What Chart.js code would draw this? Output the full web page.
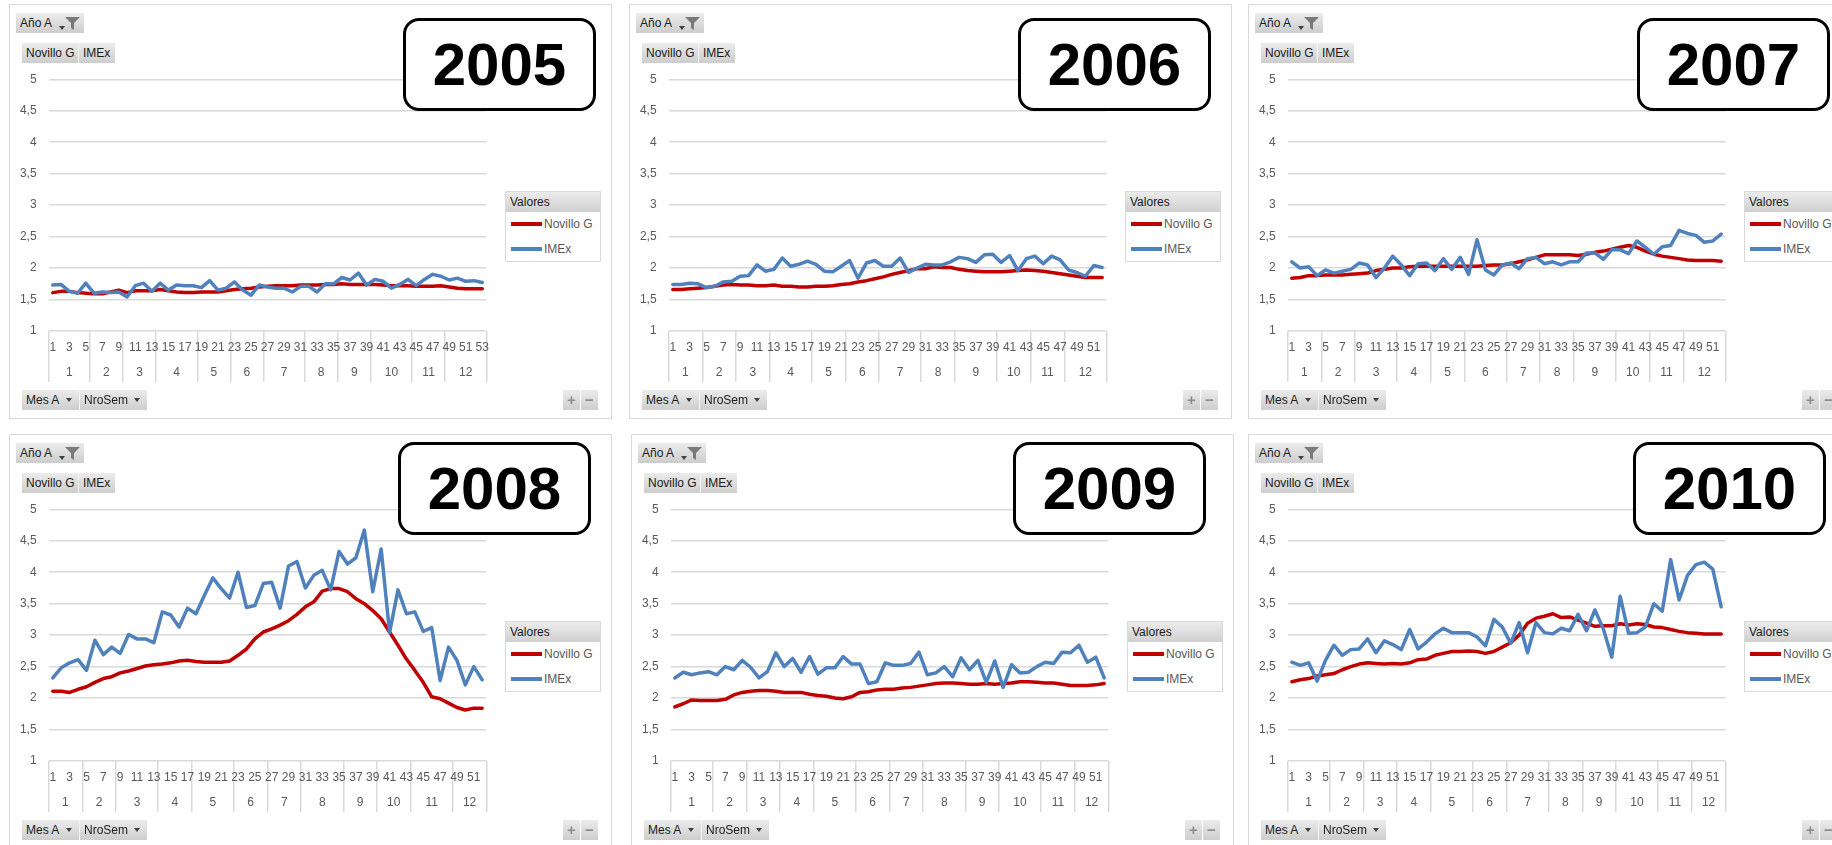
<!DOCTYPE html>
<html>
<head>
<meta charset="utf-8">
<script src="https://cdn.jsdelivr.net/npm/chart.js@4.4.1/dist/chart.umd.min.js"></script>
<style>
  body { margin: 0; width: 1832px; height: 845px; overflow: hidden; background: #fff; font-family: 'Liberation Sans', Arial, sans-serif; position: relative; }
  .panel { position: absolute; width: 601px; height: 413px; outline: 1px solid #d9d9d9; background: #fff; }
  .panel canvas { position: absolute; left: 0; top: 0; }
  .btn { position: absolute; height: 20px; line-height: 20px; font-size: 12px; color: #1a1a1a; background: linear-gradient(#ebebeb, #cdcdcd); box-sizing: border-box; padding-left: 4px; white-space: nowrap; }
  .tri { position: absolute; width: 0; height: 0; border-left: 3px solid transparent; border-right: 3px solid transparent; border-top: 4px solid #404040; }
  .pm { position: absolute; top: 385px; width: 17px; height: 20px; line-height: 19px; text-align: center; font-size: 15px; font-weight: bold; color: #8c8c8c; background: linear-gradient(#ebebeb, #cdcdcd); }
  .yearbox { position: absolute; width: 193px; height: 93px; border: 3px solid #000; border-radius: 16px; background: #fff; box-sizing: border-box; font-weight: bold; font-size: 60px; text-align: center; line-height: 87px; color: #000; }
  .legend { position: absolute; left: 495px; top: 186px; width: 96px; height: 71px; border: 1px solid #d9d9d9; box-sizing: border-box; background: #fff; }
  .lhead { height: 20px; line-height: 20px; font-size: 12px; padding-left: 4px; background: linear-gradient(#ececec, #cfcfcf); color: #1a1a1a; }
  .lrow { position: absolute; left: 5px; height: 14px; line-height: 14px; font-size: 12px; color: #595959; white-space: nowrap; }
  .sw { display: inline-block; width: 31px; height: 4px; vertical-align: middle; margin-right: 2px; position: relative; top: -1px; }
</style>
</head>
<body>
<script>
// month labels on the second axis row
var MONTHS = ['1', '2', '3', '4', '5', '6', '7', '8', '9', '10', '11', '12'];

// weeks per month (NroSem grouped by Mes A)
var MONTH_WEEKS_2005 = [5, 4, 4, 5, 4, 4, 5, 4, 4, 5, 4, 5];
var MONTH_WEEKS_2006 = [4, 4, 4, 5, 4, 4, 5, 4, 5, 4, 4, 5];
var MONTH_WEEKS_2007 = [4, 4, 5, 4, 4, 5, 4, 4, 5, 4, 4, 5];
var MONTH_WEEKS_2008 = [4, 4, 5, 4, 5, 4, 4, 5, 4, 4, 5, 4];
var MONTH_WEEKS_2009 = [5, 4, 4, 4, 5, 4, 4, 5, 4, 5, 4, 4];
var MONTH_WEEKS_2010 = [5, 4, 4, 4, 5, 4, 5, 4, 4, 5, 4, 4];

var NOV_2005 = [1.61, 1.63, 1.63, 1.61, 1.60, 1.59, 1.59, 1.62, 1.65, 1.61,
    1.64, 1.64, 1.64, 1.66, 1.64, 1.62, 1.61, 1.61, 1.62, 1.62,
    1.62, 1.64, 1.66, 1.67, 1.68, 1.70, 1.71, 1.72, 1.72, 1.72,
    1.73, 1.73, 1.73, 1.74, 1.74, 1.75, 1.74, 1.74, 1.74, 1.74,
    1.73, 1.72, 1.72, 1.72, 1.71, 1.71, 1.71, 1.72, 1.70, 1.68,
    1.67, 1.67, 1.67];
var IMEX_2005 = [1.73, 1.74, 1.63, 1.60, 1.76, 1.60, 1.62, 1.61, 1.62, 1.54,
    1.72, 1.76, 1.63, 1.76, 1.65, 1.73, 1.72, 1.72, 1.69, 1.80,
    1.65, 1.68, 1.78, 1.65, 1.57, 1.73, 1.70, 1.68, 1.68, 1.62,
    1.71, 1.71, 1.62, 1.75, 1.75, 1.85, 1.81, 1.92, 1.73, 1.82,
    1.79, 1.68, 1.74, 1.82, 1.72, 1.82, 1.90, 1.87, 1.81, 1.84,
    1.79, 1.80, 1.77];

var NOV_2006 = [1.66, 1.66, 1.67, 1.68, 1.69, 1.71, 1.73, 1.74, 1.73, 1.73,
    1.72, 1.72, 1.73, 1.71, 1.71, 1.70, 1.70, 1.71, 1.71, 1.72,
    1.74, 1.75, 1.78, 1.80, 1.83, 1.86, 1.90, 1.93, 1.96, 1.99,
    1.99, 2.02, 2.01, 2.01, 1.98, 1.96, 1.95, 1.94, 1.94, 1.94,
    1.95, 1.96, 1.97, 1.96, 1.95, 1.93, 1.91, 1.89, 1.87, 1.85,
    1.85, 1.85];
var IMEX_2006 = [1.74, 1.74, 1.76, 1.75, 1.69, 1.71, 1.78, 1.79, 1.87, 1.88,
    2.05, 1.95, 1.98, 2.16, 2.03, 2.06, 2.11, 2.06, 1.95, 1.94,
    2.03, 2.12, 1.84, 2.08, 2.12, 2.03, 2.03, 2.16, 1.93, 2.00,
    2.06, 2.05, 2.05, 2.10, 2.17, 2.15, 2.09, 2.21, 2.22, 2.09,
    2.20, 1.96, 2.15, 2.19, 2.07, 2.19, 2.13, 1.97, 1.93, 1.87,
    2.04, 2.01];

var NOV_2007 = [1.84, 1.85, 1.88, 1.88, 1.89, 1.89, 1.89, 1.90, 1.91, 1.92,
    1.96, 1.98, 2.00, 2.00, 2.02, 2.03, 2.03, 2.03, 2.03, 2.03,
    2.03, 2.03, 2.03, 2.04, 2.05, 2.05, 2.07, 2.10, 2.13, 2.17,
    2.21, 2.21, 2.21, 2.21, 2.20, 2.22, 2.25, 2.27, 2.30, 2.33,
    2.36, 2.33, 2.27, 2.22, 2.19, 2.17, 2.15, 2.13, 2.12, 2.12,
    2.12, 2.11];
var IMEX_2007 = [2.10, 2.00, 2.02, 1.88, 1.97, 1.92, 1.95, 1.98, 2.08, 2.05,
    1.85, 2.00, 2.19, 2.05, 1.88, 2.07, 2.08, 1.96, 2.15, 1.98,
    2.17, 1.90, 2.45, 1.97, 1.89, 2.05, 2.08, 1.99, 2.15, 2.17,
    2.07, 2.10, 2.05, 2.10, 2.10, 2.24, 2.24, 2.14, 2.29, 2.29,
    2.23, 2.43, 2.33, 2.22, 2.34, 2.36, 2.60, 2.55, 2.52, 2.41,
    2.43, 2.54];

var NOV_2008 = [2.11, 2.11, 2.09, 2.14, 2.18, 2.25, 2.31, 2.34, 2.40, 2.43,
    2.47, 2.51, 2.53, 2.54, 2.56, 2.59, 2.60, 2.58, 2.57, 2.57,
    2.57, 2.59, 2.68, 2.78, 2.94, 3.05, 3.10, 3.16, 3.23, 3.33,
    3.45, 3.53, 3.70, 3.74, 3.74, 3.69, 3.58, 3.50, 3.39, 3.26,
    3.05, 2.84, 2.62, 2.44, 2.25, 2.02, 1.99, 1.92, 1.85, 1.81,
    1.84, 1.84];
var IMEX_2008 = [2.32, 2.48, 2.56, 2.61, 2.44, 2.92, 2.69, 2.81, 2.71, 3.01,
    2.94, 2.94, 2.88, 3.37, 3.32, 3.13, 3.43, 3.34, 3.63, 3.91,
    3.74, 3.59, 4.00, 3.44, 3.47, 3.82, 3.84, 3.43, 4.10, 4.17,
    3.75, 3.95, 4.03, 3.72, 4.33, 4.13, 4.23, 4.67, 3.69, 4.37,
    3.04, 3.72, 3.34, 3.37, 3.06, 3.12, 2.28, 2.81, 2.60, 2.21,
    2.50, 2.29];

var NOV_2009 = [1.86, 1.91, 1.97, 1.96, 1.96, 1.96, 1.98, 2.05, 2.09, 2.11,
    2.12, 2.12, 2.11, 2.09, 2.09, 2.09, 2.06, 2.04, 2.03, 2.00,
    1.99, 2.02, 2.09, 2.10, 2.13, 2.14, 2.14, 2.16, 2.17, 2.19,
    2.21, 2.23, 2.24, 2.24, 2.23, 2.22, 2.22, 2.23, 2.22, 2.23,
    2.24, 2.26, 2.26, 2.25, 2.24, 2.24, 2.22, 2.20, 2.20, 2.20,
    2.21, 2.23];
var IMEX_2009 = [2.32, 2.41, 2.37, 2.40, 2.42, 2.37, 2.50, 2.45, 2.60, 2.49,
    2.32, 2.42, 2.72, 2.50, 2.63, 2.41, 2.66, 2.38, 2.48, 2.48,
    2.66, 2.54, 2.54, 2.23, 2.26, 2.56, 2.52, 2.52, 2.55, 2.73,
    2.37, 2.40, 2.50, 2.34, 2.64, 2.45, 2.60, 2.25, 2.59, 2.17,
    2.53, 2.40, 2.41, 2.50, 2.57, 2.55, 2.73, 2.72, 2.84, 2.57,
    2.65, 2.32];

var NOV_2010 = [2.26, 2.29, 2.31, 2.35, 2.37, 2.39, 2.45, 2.50, 2.54, 2.56,
    2.55, 2.54, 2.55, 2.54, 2.56, 2.61, 2.62, 2.68, 2.71, 2.74,
    2.74, 2.75, 2.74, 2.71, 2.74, 2.81, 2.88, 3.00, 3.19, 3.27,
    3.30, 3.34, 3.28, 3.29, 3.24, 3.19, 3.14, 3.15, 3.15, 3.18,
    3.16, 3.18, 3.17, 3.13, 3.12, 3.09, 3.06, 3.04, 3.03, 3.02,
    3.02, 3.02];
var IMEX_2010 = [2.57, 2.52, 2.56, 2.27, 2.60, 2.84, 2.68, 2.77, 2.78, 2.94,
    2.72, 2.91, 2.85, 2.77, 3.09, 2.78, 2.89, 3.02, 3.11, 3.04,
    3.04, 3.04, 2.97, 2.83, 3.25, 3.13, 2.87, 3.20, 2.72, 3.20,
    3.04, 3.02, 3.11, 3.07, 3.33, 3.07, 3.40, 3.10, 2.65, 3.62,
    3.03, 3.04, 3.13, 3.50, 3.38, 4.20, 3.56, 3.95, 4.12, 4.16,
    4.05, 3.45];

var panels = [
    { year: '2005', left: 10, top: 5, boxLeft: 393, boxTop: 13, nov: NOV_2005, imex: IMEX_2005, months: MONTH_WEEKS_2005 },
    { year: '2006', left: 630, top: 5, boxLeft: 388, boxTop: 13, nov: NOV_2006, imex: IMEX_2006, months: MONTH_WEEKS_2006 },
    { year: '2007', left: 1249, top: 5, boxLeft: 388, boxTop: 13, nov: NOV_2007, imex: IMEX_2007, months: MONTH_WEEKS_2007 },
    { year: '2008', left: 10, top: 435, boxLeft: 388, boxTop: 7, nov: NOV_2008, imex: IMEX_2008, months: MONTH_WEEKS_2008 },
    { year: '2009', left: 632, top: 435, boxLeft: 381, boxTop: 7, nov: NOV_2009, imex: IMEX_2009, months: MONTH_WEEKS_2009 },
    { year: '2010', left: 1249, top: 435, boxLeft: 384, boxTop: 7, nov: NOV_2010, imex: IMEX_2010, months: MONTH_WEEKS_2010 }
];

Chart.defaults.font.family = "'Liberation Sans', Arial, sans-serif";
Chart.defaults.font.size = 12;
Chart.defaults.color = '#595959';

var GRID = '#d9d9d9';
var NONE = 'rgba(0,0,0,0)';

var funnel = '<svg width="15" height="13" style="position:absolute;left:49px;top:4px" viewBox="0 0 15 13">' +
    '<path d="M0 0 H15 L9 6 V13 L6 11 V6 Z" fill="#7a7a7a"/></svg>';

function makeChart(canvas, p) {
    var weeks = p.nov.map(function (v, i) { return String(i + 1); });
    var n = weeks.length;

    // month boundaries, counted in weeks
    var bounds = [0];
    p.months.forEach(function (w) { bounds.push(bounds[bounds.length - 1] + w); });

    var monthTicks = [];
    p.months.forEach(function (w, m) {
        monthTicks.push({ value: bounds[m], edge: true });
        monthTicks.push({ value: bounds[m] + w / 2, name: MONTHS[m] });
    });
    monthTicks.push({ value: n, edge: true });

    return new Chart(canvas.getContext('2d'), {
        type: 'line',
        data: {
            labels: weeks,
            datasets: [{
                label: 'Novillo G',
                data: p.nov,
                borderColor: '#c00000',
                borderWidth: 3.5,
                pointRadius: 0,
                order: 1
            }, {
                label: 'IMEx',
                data: p.imex,
                borderColor: '#4f81bd',
                borderWidth: 3.5,
                pointRadius: 0,
                order: 0
            }]
        },
        options: {
            responsive: false,
            animation: false,
            devicePixelRatio: 1,
            layout: { padding: { top: 74.3, right: 124.6, bottom: 36, left: 0 } },
            elements: { line: { tension: 0, borderJoinStyle: 'round', borderCapStyle: 'round' } },
            plugins: { legend: { display: false }, tooltip: { enabled: false } },
            scales: {
                y: {
                    min: 1,
                    max: 5,
                    ticks: {
                        stepSize: 0.5,
                        padding: 12,
                        callback: function (v) { return String(v).replace('.', ','); }
                    },
                    grid: { color: GRID, lineWidth: 1.5, drawTicks: false },
                    border: { display: false },
                    afterFit: function (s) { s.width = 38.6; }
                },
                x: {
                    type: 'category',
                    offset: true,
                    weight: 0,
                    grid: {
                        offset: true,
                        drawOnChartArea: false,
                        tickLength: 26,
                        lineWidth: 1.5,
                        color: function (c) {
                            return (c.index === undefined || bounds.indexOf(c.index) >= 0) ? GRID : NONE;
                        }
                    },
                    border: { display: false },
                    ticks: {
                        autoSkip: false,
                        maxRotation: 0,
                        minRotation: 0,
                        padding: -16.2,
                        callback: function (v, i) { return i % 2 === 0 ? weeks[i] : ''; }
                    },
                    afterFit: function (s) { s.height = 26; }
                },
                m: {
                    type: 'linear',
                    position: 'bottom',
                    weight: 1,
                    min: 0,
                    max: n,
                    bounds: 'data',
                    grid: {
                        drawOnChartArea: false,
                        tickLength: 25,
                        lineWidth: 1.5,
                        color: function (c) { return (c.tick && c.tick.edge) ? GRID : NONE; }
                    },
                    border: { display: false },
                    ticks: {
                        autoSkip: false,
                        maxRotation: 0,
                        minRotation: 0,
                        padding: -16.2,
                        callback: function (v, i, t) { return t[i].name || ''; }
                    },
                    afterBuildTicks: function (s) {
                        s.ticks = monthTicks.map(function (t) { return { value: t.value, edge: t.edge, name: t.name }; });
                    },
                    afterFit: function (s) { s.height = 25; }
                }
            }
        }
    });
}

panels.forEach(function (p) {
    var el = document.createElement('div');
    el.className = 'panel';
    el.style.left = p.left + 'px';
    el.style.top = p.top + 'px';
    el.innerHTML =
        '<canvas width="601" height="413"></canvas>' +
        '<div class="btn" style="left:6px;top:8px;width:68px;padding-left:4px">Año A' +
            '<span class="tri" style="left:43px;top:13px"></span>' + funnel + '</div>' +
        '<div class="btn" style="left:12px;top:38px;width:56px">Novillo G</div>' +
        '<div class="btn" style="left:68px;top:38px;width:37px;border-left:1px solid #f4f4f4">IMEx</div>' +
        '<div class="yearbox" style="left:' + p.boxLeft + 'px;top:' + p.boxTop + 'px">' + p.year + '</div>' +
        '<div class="legend"><div class="lhead">Valores</div>' +
            '<div class="lrow" style="top:25px"><span class="sw" style="background:#c00000"></span>Novillo G</div>' +
            '<div class="lrow" style="top:50px"><span class="sw" style="background:#4f81bd"></span>IMEx</div></div>' +
        '<div class="btn" style="left:12px;top:385px;width:57px">Mes A<span class="tri" style="left:44px;top:8px"></span></div>' +
        '<div class="btn" style="left:69px;top:385px;width:68px;border-left:1px solid #f4f4f4">NroSem<span class="tri" style="left:54px;top:8px"></span></div>' +
        '<div class="pm" style="left:553px">+</div>' +
        '<div class="pm" style="left:571px">&minus;</div>';
    document.body.appendChild(el);
    makeChart(el.querySelector('canvas'), p);
});
</script>
</body>
</html>
